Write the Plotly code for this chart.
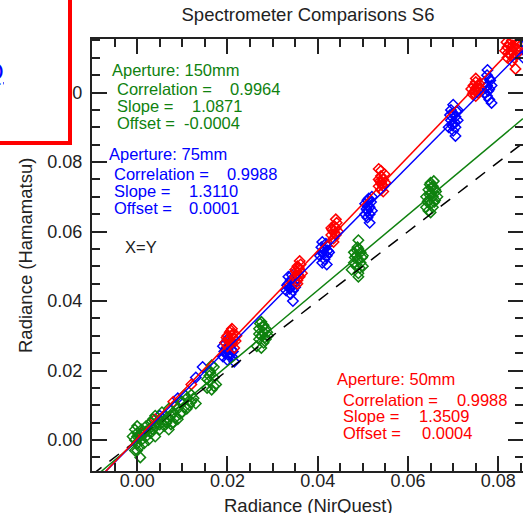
import plotly.graph_objects as go

# ---------------- data ----------------
# Aperture 150mm (green)
g_x = [-0.0005, -0.0005, -0.0005, 0.0, 0.0, 0.0, 0.0, 0.0005, 0.0005, 0.001, 0.001, 0.0015, 0.0015,
       0.002, 0.002, 0.0025, 0.003, 0.003, 0.0035, 0.004, 0.004, 0.004, 0.0045, 0.005, 0.005, 0.0055,
       0.006, 0.006, 0.0065, 0.007, 0.007, 0.007, 0.0075, 0.008, 0.008, 0.0085, 0.009, 0.009, 0.0095,
       0.010, 0.010, 0.0105, 0.011, 0.011, 0.0115, 0.012, 0.012, 0.0007,
       -0.001, 0.0, 0.001, 0.002, 0.003, 0.0035, 0.005, 0.006, 0.0075, 0.0085, 0.0095, 0.0105, 0.0125, 0.013,
       0.0155, 0.016, 0.016, 0.0165, 0.017, 0.017, 0.0175, 0.016, 0.0165, 0.0155, 0.017, 0.0162,
       0.0265, 0.027, 0.027, 0.0275, 0.0275, 0.028, 0.028, 0.028, 0.0285, 0.0285, 0.029, 0.0275,
       0.027, 0.0278, 0.0283, 0.0272, 0.0288,
       0.0475, 0.048, 0.048, 0.0485, 0.0485, 0.049, 0.049, 0.049, 0.0495, 0.0495, 0.050, 0.050, 0.049, 0.049,
       0.0482, 0.0488, 0.0493, 0.0498, 0.0487,
       0.064, 0.064, 0.0645, 0.0645, 0.0645, 0.065, 0.065, 0.065, 0.0655, 0.0655, 0.0655, 0.066, 0.066,
       0.0665, 0.065, 0.0643, 0.0648, 0.0652, 0.0658, 0.0662, 0.0648, 0.0657]
g_y = [-0.003, 0.000, 0.003, -0.003, -0.001, 0.002, 0.004, -0.002, 0.001, 0.000, 0.003, -0.001, 0.002,
       0.001, 0.004, 0.000, 0.002, 0.005, 0.003, 0.001, 0.004, 0.007, 0.005, 0.003, 0.006, 0.008,
       0.004, 0.007, 0.005, 0.003, 0.006, 0.009, 0.007, 0.005, 0.008, 0.010, 0.006, 0.009, 0.011,
       0.008, 0.011, 0.013, 0.009, 0.012, 0.010, 0.011, 0.013, -0.005,
       0.001, 0.001, 0.0015, 0.0025, 0.0035, 0.006, 0.0045, 0.0055, 0.0045, 0.0065, 0.0075, 0.0095, 0.012, 0.0105,
       0.015, 0.017, 0.020, 0.0145, 0.018, 0.021, 0.016, 0.0185, 0.0215, 0.0175, 0.0155, 0.0195,
       0.027, 0.029, 0.032, 0.030, 0.034, 0.028, 0.031, 0.033, 0.029, 0.032, 0.030, 0.0265,
       0.0305, 0.0325, 0.0295, 0.0335, 0.031,
       0.049, 0.051, 0.054, 0.050, 0.053, 0.048, 0.052, 0.055, 0.051, 0.054, 0.050, 0.053, 0.0575, 0.047,
       0.0525, 0.0555, 0.0495, 0.0525, 0.0545,
       0.067, 0.070, 0.066, 0.069, 0.072, 0.068, 0.071, 0.074, 0.067, 0.070, 0.073, 0.069, 0.072,
       0.070, 0.0655, 0.0685, 0.0735, 0.0725, 0.0685, 0.0715, 0.0705, 0.0745]

# Aperture 75mm (blue)
b_x = [0.001, 0.005, 0.009, 0.013, 0.0145,
       0.019, 0.019, 0.0195, 0.0195, 0.020, 0.020, 0.020, 0.0205, 0.0205, 0.021, 0.021, 0.0215,
       0.0193, 0.0198, 0.0202, 0.0208, 0.0212,
       0.033, 0.0335, 0.0335, 0.034, 0.034, 0.034, 0.0345, 0.0345, 0.035, 0.035, 0.0345,
       0.0332, 0.0338, 0.0343, 0.0348, 0.0352,
       0.0405, 0.041, 0.041, 0.041, 0.0415, 0.0415, 0.042, 0.042, 0.0425, 0.042,
       0.0408, 0.0413, 0.0418, 0.0422,
       0.0505, 0.0505, 0.051, 0.051, 0.051, 0.0515, 0.0515, 0.052, 0.052, 0.0515,
       0.0508, 0.0512, 0.0518, 0.0513,
       0.069, 0.0695, 0.0695, 0.070, 0.070, 0.070, 0.0705, 0.0705, 0.071, 0.071, 0.0705,
       0.0693, 0.0698, 0.0703, 0.0708, 0.0700,
       0.077, 0.077, 0.0775, 0.0775, 0.0775, 0.078, 0.078, 0.0785, 0.078, 0.0785,
       0.0773, 0.0778, 0.0782, 0.0776,
       0.0855, 0.086, 0.086, 0.0865, 0.087]
b_y = [0.002, 0.007, 0.012, 0.018, 0.021,
       0.024, 0.027, 0.025, 0.028, 0.023, 0.026, 0.029, 0.025, 0.027, 0.024, 0.026, 0.0225,
       0.0255, 0.0265, 0.0245, 0.0285, 0.0255,
       0.043, 0.045, 0.047, 0.042, 0.044, 0.046, 0.043, 0.045, 0.044, 0.047, 0.040,
       0.0445, 0.0435, 0.0475, 0.0455, 0.0455,
       0.053, 0.051, 0.054, 0.057, 0.052, 0.055, 0.053, 0.056, 0.054, 0.0505,
       0.0555, 0.0535, 0.0565, 0.0545,
       0.065, 0.068, 0.064, 0.066, 0.069, 0.065, 0.067, 0.066, 0.070, 0.0625,
       0.0665, 0.0675, 0.0685, 0.0695,
       0.090, 0.092, 0.095, 0.089, 0.091, 0.094, 0.090, 0.093, 0.092, 0.095, 0.0875,
       0.0935, 0.0905, 0.0915, 0.0945, 0.0965,
       0.100, 0.103, 0.099, 0.102, 0.105, 0.101, 0.104, 0.102, 0.098, 0.097,
       0.1015, 0.1005, 0.1035, 0.1065,
       0.110, 0.112, 0.114, 0.111, 0.113]

# Aperture 50mm (red)
r_x = [0.001, 0.004, 0.008, 0.012,
       0.0195, 0.020, 0.020, 0.0205, 0.0205, 0.021, 0.021, 0.0215, 0.022, 0.021, 0.0215,
       0.0198, 0.0203, 0.0208, 0.0212, 0.0218,
       0.035, 0.035, 0.0355, 0.0355, 0.0355, 0.036, 0.036, 0.0365, 0.036, 0.0355,
       0.0352, 0.0358, 0.0362, 0.0357,
       0.043, 0.043, 0.0435, 0.0435, 0.044, 0.044, 0.0445, 0.044, 0.0435,
       0.0432, 0.0438, 0.0442, 0.0437,
       0.0535, 0.0535, 0.054, 0.054, 0.054, 0.0545, 0.0545, 0.055, 0.0535, 0.0545,
       0.0538, 0.0542, 0.0548, 0.0540,
       0.0745, 0.0745, 0.075, 0.075, 0.075, 0.0755, 0.0755, 0.076, 0.074, 0.075,
       0.0748, 0.0752, 0.0758, 0.0743,
       0.082, 0.082, 0.0825, 0.0825, 0.083, 0.083, 0.083, 0.0835, 0.0835, 0.084, 0.084, 0.0838, 0.0815,
       0.0822, 0.0828, 0.0832, 0.0838, 0.0843, 0.0818]
r_y = [0.002, 0.006, 0.011, 0.016,
       0.028, 0.027, 0.030, 0.029, 0.031, 0.028, 0.030, 0.029, 0.030, 0.032, 0.0265,
       0.0295, 0.0285, 0.0315, 0.0305, 0.0285,
       0.047, 0.049, 0.046, 0.048, 0.050, 0.047, 0.049, 0.048, 0.0515, 0.045,
       0.0485, 0.0495, 0.0505, 0.0475,
       0.059, 0.061, 0.058, 0.060, 0.059, 0.061, 0.060, 0.0635, 0.057,
       0.0605, 0.0595, 0.0625, 0.0615,
       0.073, 0.075, 0.072, 0.074, 0.076, 0.073, 0.075, 0.074, 0.078, 0.0715,
       0.0745, 0.0735, 0.0765, 0.0775,
       0.100, 0.102, 0.099, 0.101, 0.103, 0.100, 0.102, 0.101, 0.101, 0.104,
       0.1005, 0.1015, 0.1025, 0.0995,
       0.110, 0.113, 0.111, 0.114, 0.109, 0.112, 0.115, 0.110, 0.113, 0.111, 0.114, 0.1068, 0.112,
       0.1115, 0.1105, 0.1135, 0.1125, 0.1125, 0.1145]

apertures = ["Aperture: 150mm", "Aperture: 75mm", "Aperture: 50mm"]
correlations = ["0.9964", "0.9988", "0.9988"]
slopes = [1.0871, 1.3110, 1.3509]
offsets = [-0.0004, 0.0001, 0.0004]
slope_labels = ["1.0871", "1.3110", "1.3509"]
offset_labels = ["-0.0004", "0.0001", "0.0004"]

x_ticks = [0.00, 0.02, 0.04, 0.06, 0.08]
y_ticks = [0.00, 0.02, 0.04, 0.06, 0.08, 0.10]
x_range = [-0.0100, 0.08546]
y_range = [-0.00892, 0.1154]

GREEN = "rgb(15,130,15)"
BLUE = "rgb(0,0,255)"
RED = "rgb(255,0,0)"
FONT = "Liberation Sans, Arial, Helvetica, sans-serif"
INK = "#222222"

fig = go.Figure()

def pts(x, y, c):
    fig.add_trace(go.Scatter(x=x, y=y, mode="markers",
                             marker=dict(symbol="diamond-open", size=8, color=c,
                                         line=dict(width=1.5, color=c)),
                             showlegend=False, hoverinfo="skip", cliponaxis=True))

pts(b_x, b_y, BLUE)
pts(r_x, r_y, RED)
pts(g_x, g_y, GREEN)

# X=Y line
fig.add_trace(go.Scatter(x=x_range, y=x_range, mode="lines",
                         line=dict(color="black", width=1.5, dash="12px,10px"),
                         showlegend=False, hoverinfo="skip"))
# fit lines
for s, o, c in zip(slopes, offsets, [GREEN, BLUE, RED]):
    fig.add_trace(go.Scatter(x=x_range, y=[s * v + o for v in x_range], mode="lines",
                             line=dict(color=c, width=1.5), showlegend=False, hoverinfo="skip"))

# plot-area pixel geometry
L, R, T, B = 92, 523, 39, 471
def px(xp):
    return (xp - L) / (R - L)
def py(yp):
    return (B - yp) / (B - T)

ann = []
def txt(t, xp, yp, c, size=16.5, anchor="left", angle=0):
    ann.append(dict(text=t, x=px(xp), y=py(yp), xref="paper", yref="paper",
                    xanchor=anchor, yanchor="middle", showarrow=False, textangle=angle,
                    font=dict(family=FONT, size=size, color=c)))

# green block
txt(apertures[0], 110, 70, GREEN)
txt("Correlation =", 115, 89, GREEN); txt(correlations[0], 228, 89, GREEN)
txt("Slope =", 115, 106, GREEN); txt(slope_labels[0], 190, 106, GREEN)
txt("Offset =", 115, 123, GREEN); txt(offset_labels[0], 182, 123, GREEN)
# blue block
txt(apertures[1], 107, 154, BLUE)
txt("Correlation =", 112, 174, BLUE); txt(correlations[1], 225, 174, BLUE)
txt("Slope =", 112, 191, BLUE); txt(slope_labels[1], 187, 191, BLUE)
txt("Offset =", 112, 208, BLUE); txt(offset_labels[1], 187, 208, BLUE)
# X=Y
txt("X=Y", 123, 247, INK)
# red block
txt(apertures[2], 335, 379, RED)
txt("Correlation =", 341, 400, RED); txt(correlations[2], 455, 400, RED)
txt("Slope =", 341, 416, RED); txt(slope_labels[2], 417, 416, RED)
txt("Offset =", 341, 433, RED); txt(offset_labels[2], 420, 433, RED)
# axis titles
txt("Radiance (NirQuest)", 308, 505, INK, size=18.5, anchor="center")
txt("Radiance (Hamamatsu)", 25, 256, INK, size=18.5, anchor="center", angle=-90)
# partially hidden link-like text in the overlay box
txt("<u>Q</u>", 6, 72, BLUE, size=24, anchor="right")

axis_common = dict(showline=True, mirror="ticks", linecolor=INK, linewidth=2,
                   ticks="inside", ticklen=15, tickwidth=1.5, tickcolor=INK,
                   showgrid=False, zeroline=False, tickformat=".2f", automargin=False,
                   tickfont=dict(family=FONT, size=18, color=INK),
                   minor=dict(ticks="inside", ticklen=8, tickwidth=1.5, tickcolor=INK, dtick=0.005,
                              showgrid=False))

fig.update_layout(
    width=523, height=513,
    margin=dict(l=L, r=523 - R, t=T, b=513 - B, autoexpand=False),
    plot_bgcolor="white", paper_bgcolor="white",
    title=dict(text="Spectrometer Comparisons S6", x=308 / 523, xref="container", xanchor="center",
               y=1 - 15 / 513, yref="container", yanchor="middle",
               font=dict(family=FONT, size=18.5, color=INK)),
    xaxis=dict(range=x_range, tickvals=x_ticks, ticklabelstandoff=-8, **axis_common),
    yaxis=dict(range=y_range, tickvals=y_ticks, ticklabelstandoff=4, **axis_common),
    annotations=ann,
    shapes=[dict(type="rect", xref="paper", yref="paper", layer="above",
                 x0=px(-20), x1=px(70), y0=py(143), y1=py(-20),
                 line=dict(color=RED, width=4), fillcolor="white")],
)

fig.write_html("out.html", config={"displayModeBar": False},
               post_script="document.body.style.margin='0';document.body.style.overflow='hidden';")
